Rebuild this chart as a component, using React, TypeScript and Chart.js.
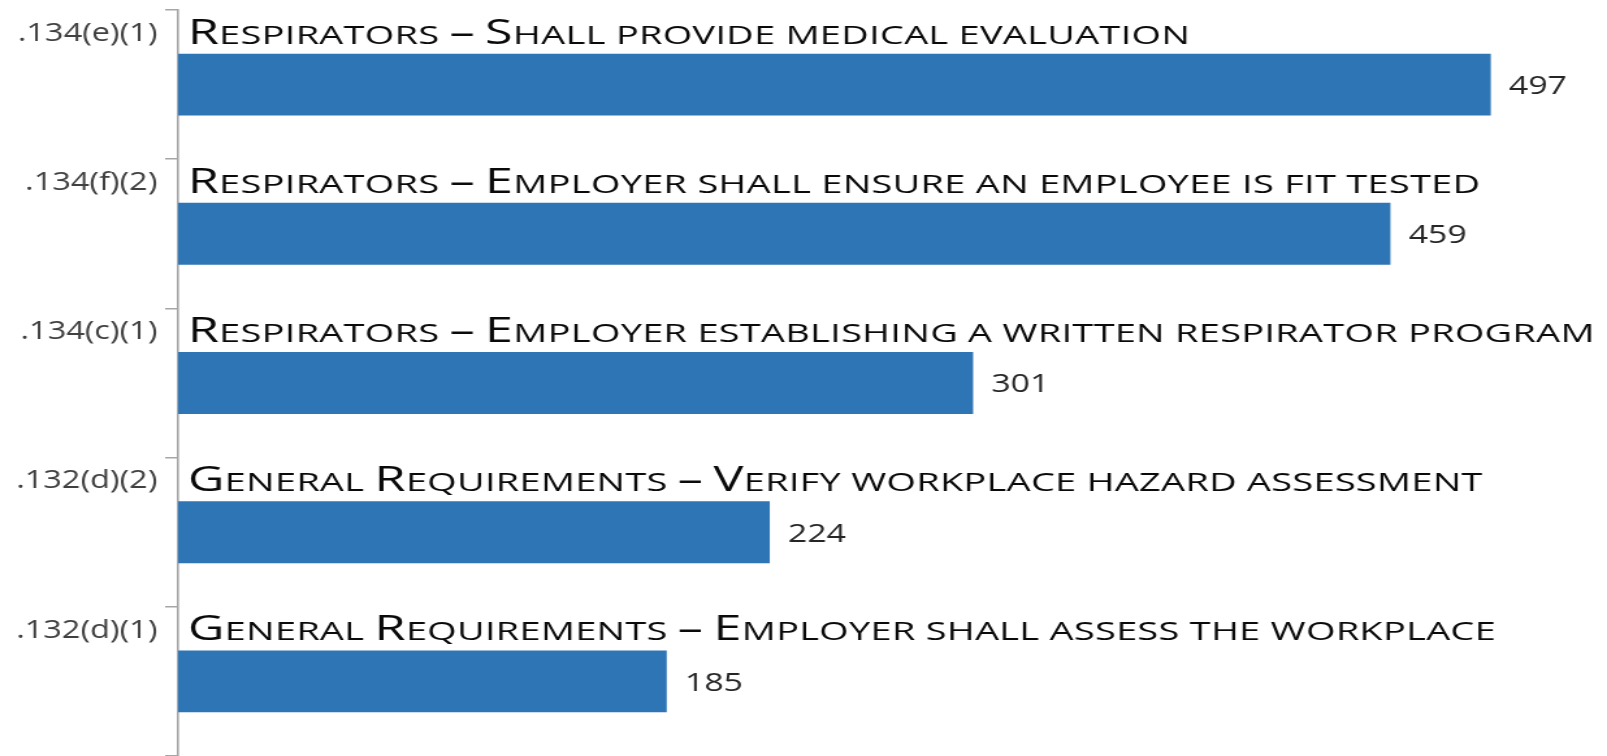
import React, { useEffect, useRef } from "react";
import { Chart, registerables } from "chart.js";

Chart.register(...registerables);

const codes = [".134(e)(1)", ".134(f)(2)", ".134(c)(1)", ".132(d)(2)", ".132(d)(1)"];
const titles = [
  "Respirators – Shall provide medical evaluation",
  "Respirators – Employer shall ensure an employee is fit tested",
  "Respirators – Employer establishing a written respirator program",
  "General Requirements – Verify workplace hazard assessment",
  "General Requirements – Employer shall assess the workplace",
];
const values = [497, 459, 301, 224, 185];

const STRETCH = 1.3;
const FULL_W = 1607;
const FULL_H = 756;
const LOGICAL_W = Math.round(FULL_W / STRETCH);
const AXIS_X = 137;

function drawSmallCaps(
  ctx: CanvasRenderingContext2D,
  text: string,
  x: number,
  y: number,
  big: number,
  small: number,
  family: string,
  sx: number,
  spacing: number
) {
  let cx = x;
  for (const ch of text) {
    const isLower = ch !== ch.toUpperCase();
    const size = isLower || ch === " " ? small : big;
    ctx.font = `${size}px ${family}`;
    const g = isLower ? ch.toUpperCase() : ch;
    ctx.save();
    ctx.translate(cx, y);
    ctx.scale(sx, 1);
    ctx.fillText(g, 0, 0);
    ctx.restore();
    cx += ctx.measureText(g).width * sx + spacing;
  }
}

const labelPlugin = {
  id: "titlesAndValues",
  afterDatasetsDraw(chart: any) {
    const ctx = chart.ctx as CanvasRenderingContext2D;
    const meta = chart.getDatasetMeta(0);
    ctx.save();
    meta.data.forEach((bar: any, i: number) => {
      const p = bar.getProps(["x", "y", "height"], true);
      const top = p.y - p.height / 2;
      ctx.fillStyle = "#0a0a0a";
      ctx.textBaseline = "alphabetic";
      ctx.textAlign = "left";
      drawSmallCaps(ctx, titles[i], chart.chartArea.left + 7.5, top - 10, 34.5, 26, "'Open Sans', sans-serif", 1.12, 0.25);
      ctx.fillStyle = "#262626";
      ctx.font = "26px 'Open Sans', sans-serif";
      ctx.textBaseline = "middle";
      ctx.fillText(String(values[i]), p.x + 14, p.y + 2);
    });
    ctx.restore();
  },
};

export default function App() {
  const ref = useRef<HTMLCanvasElement | null>(null);
  useEffect(() => {
    if (!ref.current) return;
    const chart = new Chart(ref.current, {
      type: "bar",
      data: {
        labels: codes,
        datasets: [
          {
            data: values,
            backgroundColor: "#2E75B6",
            borderWidth: 0,
            barPercentage: 0.415,
            categoryPercentage: 1,
          },
        ],
      },
      options: {
        indexAxis: "y",
        responsive: false,
        animation: false,
        layout: { padding: { top: 10, left: 0, right: 0, bottom: 0 } },
        plugins: { legend: { display: false }, tooltip: { enabled: false } },
        scales: {
          x: { display: false, min: 0, max: 541 },
          y: {
            afterFit: (scale: any) => {
              scale.width = AXIS_X;
              scale.paddingTop = 0;
              scale.paddingBottom = 0;
            },
            border: { display: true, color: "#A6A6A6", width: 1.6 },
            grid: {
              display: true,
              drawOnChartArea: false,
              drawTicks: true,
              tickLength: 10,
              color: "#A6A6A6",
              lineWidth: 1.5,
            },
            ticks: {
              color: "#404040",
              font: { family: "'Open Sans', sans-serif", size: 25 },
              padding: 6,
              labelOffset: -51,
            },
          },
        },
      },
      plugins: [labelPlugin],
    } as any);
    return () => chart.destroy();
  }, []);
  return (
    <div style={{ position: "fixed", left: 0, top: 0, width: FULL_W, height: FULL_H, background: "#fff" }}>
      <canvas
        ref={ref}
        width={LOGICAL_W}
        height={FULL_H}
        style={{ width: FULL_W + "px", height: FULL_H + "px", display: "block" }}
      />
    </div>
  );
}
